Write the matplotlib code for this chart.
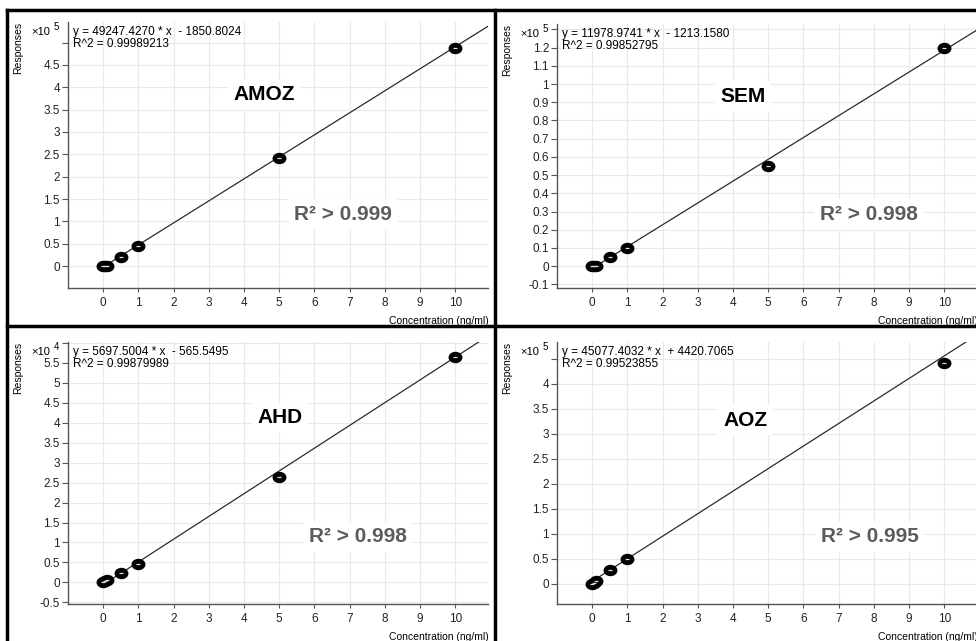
import numpy as np
import matplotlib
matplotlib.use("Agg")
import matplotlib.pyplot as plt
from matplotlib.path import Path
from matplotlib.lines import Line2D
import matplotlib.transforms as mtransforms

plt.rcParams["font.family"] = ["Liberation Sans", "DejaVu Sans"]

# calibration data (responses in raw units)
conc_std = [0, 0.05, 0.1, 0.5, 1, 5, 10]
conc_aoz = [0, 0.05, 0.1, 0.5, 1, 10]

amoz_resp = [0, 200, 400, 21000, 45000, 242000, 488000]
sem_resp = [0, 60, 120, 4800, 9700, 55000, 120000]
ahd_resp = [0, 300, 500, 2250, 4500, 26500, 56500]
aoz_resp = [0, 2000, 5000, 27000, 50000, 441000]

names = ["AMOZ", "SEM", "AHD", "AOZ"]
slopes = [49247.4270, 11978.9741, 5697.5004, 45077.4032]
intercepts = [-1850.8024, -1213.1580, -565.5495, 4420.7065]
r2_values = ["0.99989213", "0.99852795", "0.99879989", "0.99523855"]
claims = ["R\u00b2 > 0.999", "R\u00b2 > 0.998", "R\u00b2 > 0.998", "R\u00b2 > 0.995"]
exponents = [5, 5, 4, 5]
ylims = [(-0.49, 5.46), (-0.12, 1.33), (-0.54, 6.02), (-0.41, 4.83)]
ytick_sets = [
    np.arange(0, 5.01, 0.5),
    np.arange(-0.1, 1.31, 0.1),
    np.arange(-0.5, 6.01, 0.5),
    np.arange(0, 4.51, 0.5),
]
xticks = list(range(0, 11))

W, H = 976, 641
fig = plt.figure(figsize=(W / 100, H / 100), dpi=100)

# axes rectangles in pixels: left, top, right, bottom
boxes = [(68, 22, 488, 288), (557, 24, 977, 288), (68, 342, 488, 604), (557, 342, 977, 604)]
name_pos = [(0.467, 0.726), (0.443, 0.726), (0.505, 0.71), (0.448, 0.702)]
claim_pos = [(0.655, 0.278), (0.743, 0.278), (0.69, 0.256), (0.745, 0.256)]
concs = [conc_std, conc_std, conc_std, conc_aoz]
resps = [amoz_resp, sem_resp, ahd_resp, aoz_resp]

ellipse = Path.unit_circle().transformed(mtransforms.Affine2D().scale(1.25, 1.0))

for i in range(4):
    l, t, r, b = boxes[i]
    ax = fig.add_axes([l / W, 1 - b / H, (r - l) / W, (b - t) / H])
    scale = 10 ** exponents[i]

    xs = np.array([0, 12])
    ax.plot(xs, slopes[i] * xs + intercepts[i], color="#2b2b2b", lw=0.9, zorder=2)
    ax.plot(concs[i], resps[i], ls="none", marker=ellipse, ms=9,
            color="black", zorder=3)
    ax.plot(concs[i], resps[i], ls="none", marker="_", ms=2.3, mew=0.9,
            color="#dddddd", zorder=4)

    ax.set_xlim(-1.0, 10.93)
    ax.set_ylim(ylims[i][0] * scale, ylims[i][1] * scale)
    ax.set_xticks(xticks)
    yt = ytick_sets[i]
    ax.set_yticks(yt * scale)
    labels = ["{:g}".format(round(v, 2)) for v in yt]
    labels[-1] = ""
    ax.set_yticklabels(labels)

    ax.grid(True, color="#e9e9e9", lw=0.8, zorder=0)
    ax.set_axisbelow(True)
    for s in ["top", "right"]:
        ax.spines[s].set_visible(False)
    for s in ["left", "bottom"]:
        ax.spines[s].set_color("#555555")
        ax.spines[s].set_linewidth(1.0)
    ax.tick_params(axis="x", length=3, pad=3.5, labelsize=8.5, color="#555555",
                   labelcolor="#222222")
    ax.tick_params(axis="y", length=4.3, pad=1.5, labelsize=8.5, color="#555555",
                   labelcolor="#222222")

    ax.annotate("\u00d710", xy=(0, 1), xycoords="axes fraction",
                xytext=(-18, -10), textcoords="offset pixels",
                ha="right", va="center", fontsize=8)
    ax.annotate(str(exponents[i]), xy=(0, 1), xycoords="axes fraction",
                xytext=(-14, -5), textcoords="offset pixels",
                ha="left", va="center", fontsize=7)

    sign = "-" if intercepts[i] < 0 else "+"
    eq = "y = {:.4f} * x  {} {:.4f}".format(slopes[i], sign, abs(intercepts[i]))
    ax.annotate(eq, xy=(0, 1), xycoords="axes fraction",
                xytext=(5, -10.5), textcoords="offset pixels",
                ha="left", va="center", fontsize=8.5)
    ax.annotate("R^2 = " + r2_values[i], xy=(0, 1), xycoords="axes fraction",
                xytext=(5, -22), textcoords="offset pixels",
                ha="left", va="center", fontsize=8.5)

    ax.annotate("Concentration (ng/ml)", xy=(1, 0), xycoords="axes fraction",
                xytext=(1, -33), textcoords="offset pixels",
                ha="right", va="center", fontsize=7.5)
    fig.text((l - 50) / W, 1 - t / H, "Responses", rotation=90,
             ha="center", va="top", fontsize=7.5)

    ax.text(name_pos[i][0], name_pos[i][1], names[i], transform=ax.transAxes,
            ha="center", va="center", fontsize=15, fontweight="bold",
            color="black", zorder=5,
            bbox=dict(facecolor="white", edgecolor="none", pad=4))
    ax.text(claim_pos[i][0], claim_pos[i][1], claims[i], transform=ax.transAxes,
            ha="center", va="center", fontsize=15, fontweight="bold",
            color="#5c5c5c", zorder=5,
            bbox=dict(facecolor="white", edgecolor="none", pad=4))

# panel frames
frame = dict(color="black", lw=2.5, transform=fig.transFigure)
fig.add_artist(Line2D([7 / W, 7 / W], [0, 1 - 10 / H], **frame))
fig.add_artist(Line2D([7 / W, 1], [1 - 10 / H, 1 - 10 / H], **frame))
fig.add_artist(Line2D([7 / W, 1], [1 - 326 / H, 1 - 326 / H], **frame))
fig.add_artist(Line2D([495 / W, 495 / W], [0, 1 - 10 / H], **frame))

fig.savefig("out.png", dpi=100)
